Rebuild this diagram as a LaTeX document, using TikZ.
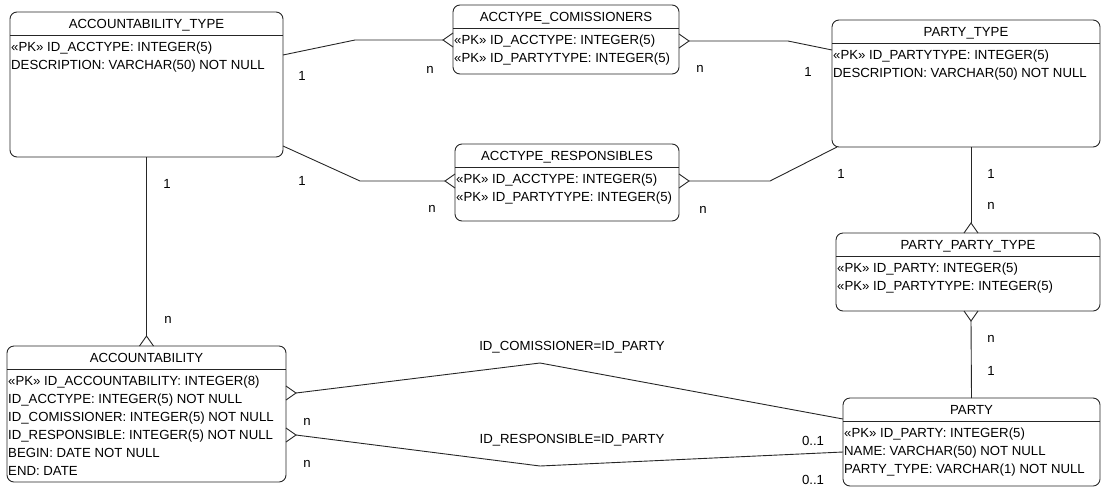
\documentclass[tikz,border=0pt]{standalone}
\usepackage{fontspec}
\setmainfont{Liberation Sans}
\usetikzlibrary{calc}

\newcommand{\tabfont}{\fontsize{13.2}{18}\selectfont}

% table box: name, left, top, width, height, title, columns
\newcommand{\dbtable}[7]{
  \node[tablebox, minimum width=#4pt, minimum height=#5pt] (#1) at (#2,#3) {};
  \draw[rel] ([yshift=-23pt]#1.north west) -- ([yshift=-23pt]#1.north east);
  \node[tabtitle] at ([yshift=-16pt]#1.north) {#6};
  \foreach \col [count=\i] in {#7}
    \node[tabcol] at ([xshift=1pt, yshift={-39-18*(\i-1)}]#1.north west) {\col};
}

% crow's foot on a box border: point, outward angle (also gives point-tip)
\newcommand{\crow}[2]{
  \coordinate (#1-tip) at ($(#1)+(#2:10pt)$);
  \draw[rel] ($(#1)+(#2+90:7pt)$) -- (#1-tip) -- ($(#1)+(#2-90:7pt)$);
}

\begin{document}
\begin{tikzpicture}[x=1pt, y=-1pt,
  tablebox/.style={draw=black!85, line width=0.9pt, rounded corners=7pt,
    anchor=north west, inner sep=0pt, outer sep=0pt},
  tabtitle/.style={anchor=base, font=\tabfont, inner sep=0pt},
  tabcol/.style={anchor=base west, font=\tabfont, inner sep=0pt},
  rel/.style={draw=black!85, line width=0.9pt},
  card/.style={font=\tabfont, inner sep=0pt}]

\useasboundingbox (0,0) rectangle (1102,488);

% tables
\dbtable{acctype}{10}{12}{273}{145}{ACCOUNTABILITY\_TYPE}
  {«PK» ID\_ACCTYPE: INTEGER(5), DESCRIPTION: VARCHAR(50) NOT NULL}
\dbtable{comm}{453}{5}{226}{69}{ACCTYPE\_COMISSIONERS}
  {«PK» ID\_ACCTYPE: INTEGER(5), «PK» ID\_PARTYTYPE: INTEGER(5)}
\dbtable{resp}{455}{144}{224}{77}{ACCTYPE\_RESPONSIBLES}
  {«PK» ID\_ACCTYPE: INTEGER(5), «PK» ID\_PARTYTYPE: INTEGER(5)}
\dbtable{ptype}{832}{20}{268}{127}{PARTY\_TYPE}
  {«PK» ID\_PARTYTYPE: INTEGER(5), DESCRIPTION: VARCHAR(50) NOT NULL}
\dbtable{pptype}{836}{233}{264}{78}{PARTY\_PARTY\_TYPE}
  {«PK» ID\_PARTY: INTEGER(5), «PK» ID\_PARTYTYPE: INTEGER(5)}
\dbtable{acc}{7}{346}{279}{136}{ACCOUNTABILITY}
  {«PK» ID\_ACCOUNTABILITY: INTEGER(8), ID\_ACCTYPE: INTEGER(5) NOT NULL,
   ID\_COMISSIONER: INTEGER(5) NOT NULL, ID\_RESPONSIBLE: INTEGER(5) NOT NULL,
   BEGIN: DATE NOT NULL, END: DATE}
\dbtable{party}{843}{398}{257}{88}{PARTY}
  {«PK» ID\_PARTY: INTEGER(5), NAME: VARCHAR(50) NOT NULL,
   PARTY\_TYPE: VARCHAR(1) NOT NULL}

% where the relations meet the boxes
\coordinate (acctype-e1) at ([yshift=-43pt]acctype.north east);
\coordinate (acctype-e2) at ([yshift=-134pt]acctype.north east);
\coordinate (comm-w) at ([yshift=-35pt]comm.north west);
\coordinate (comm-e) at ([yshift=-36pt]comm.north east);
\coordinate (resp-w) at ([yshift=-37pt]resp.north west);
\coordinate (resp-e) at ([yshift=-37pt]resp.north east);
\coordinate (ptype-w) at ([yshift=-30pt]ptype.north west);
\coordinate (ptype-sw) at ([xshift=5pt]ptype.south west);
\coordinate (ptype-s) at ([xshift=5pt]ptype.south);
\coordinate (pptype-n) at ([xshift=3pt]pptype.north);
\coordinate (pptype-s) at ([xshift=3pt]pptype.south);
\coordinate (acc-n) at (acc.north);
\coordinate (acc-e1) at ([yshift=-47pt]acc.north east);
\coordinate (acc-e2) at ([yshift=-89pt]acc.north east);
\coordinate (party-w1) at ([yshift=-21pt]party.north west);
\coordinate (party-w2) at ([yshift=-54pt]party.north west);

% relations
\crow{comm-w}{180}
\draw[rel] (acctype-e1) -- (355,40) -- (comm-w-tip);
\crow{comm-e}{0}
\draw[rel] (comm-e-tip) -- (788,41) -- (ptype-w);
\crow{resp-w}{180}
\draw[rel] (acctype-e2) -- (360,181) -- (resp-w-tip);
\crow{resp-e}{0}
\draw[rel] (resp-e-tip) -- (770,181) -- (ptype-sw);
\crow{pptype-n}{90}
\draw[rel] (ptype-s) -- (pptype-n-tip);
\crow{pptype-s}{270}
\draw[rel] (pptype-s-tip) -- (party.north);
\crow{acc-n}{90}
\draw[rel] (acctype.south) -- (acc-n-tip);
\crow{acc-e1}{0}
\draw[rel] (acc-e1-tip) -- (540,363) -- (party-w1);
\crow{acc-e2}{0}
\draw[rel] (acc-e2-tip) -- (540,466) -- (party-w2);

% cardinalities
\node[card] at (302,76) {1};
\node[card] at (430,70) {n};
\node[card] at (700,69) {n};
\node[card] at (808,72) {1};
\node[card] at (302,181) {1};
\node[card] at (432,209) {n};
\node[card] at (703,210) {n};
\node[card] at (841,174) {1};
\node[card] at (991,174) {1};
\node[card] at (991,206) {n};
\node[card] at (991,339) {n};
\node[card] at (991,371) {1};
\node[card] at (167,184) {1};
\node[card] at (168,320) {n};
\node[card] at (307,422) {n};
\node[card] at (307,464) {n};
\node[card] at (813,441) {0..1};
\node[card] at (813,480) {0..1};

% join conditions
\node[card] at (572,347) {ID\_COMISSIONER=ID\_PARTY};
\node[card] at (572,440) {ID\_RESPONSIBLE=ID\_PARTY};

\end{tikzpicture}
\end{document}
